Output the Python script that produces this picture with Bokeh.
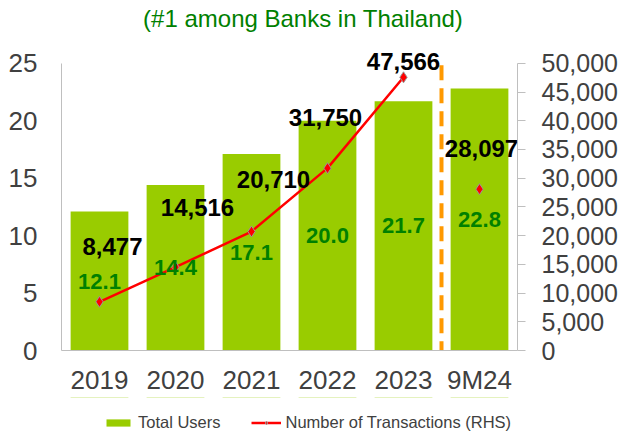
from bokeh.plotting import figure
from bokeh.layouts import column
from bokeh.models import (ColumnDataSource, Range1d, LinearAxis, LabelSet, Label,
                          Legend, LegendItem, FixedTicker, NumeralTickFormatter)
from bokeh.core.properties import value
from bokeh.embed import file_html
from bokeh.resources import INLINE

# ---- data ----
years = ["2019", "2020", "2021", "2022", "2023", "9M24"]
total_users = [12.1, 14.4, 17.1, 20.0, 21.7, 22.8]          # millions (LHS)
transactions = [8477, 14516, 20710, 31750, 47566, 28097]    # RHS
user_labels = ["12.1", "14.4", "17.1", "20.0", "21.7", "22.8"]
txn_labels = ["8,477", "14,516", "20,710", "31,750", "47,566", "28,097"]
left_ticks = [0, 5, 10, 15, 20, 25]
right_ticks = [0, 5000, 10000, 15000, 20000, 25000, 30000, 35000, 40000, 45000, 50000]
title_text = "(#1 among Banks in Thailand)"

# ---- label nudges (screen px, layout only) ----
txn_dx = [13, 22, 22, -2, 0, 2]
txn_dy = [55, 60, 52, 51, 16, 41]

FONT = "Liberation Sans"
GREEN_BAR = "#99CC00"
GREEN_TXT = "#008000"
GRAY_TXT = "#404040"
AXIS_GRAY = "#BFBFBF"

# frame reaches up to the top of the canvas so the title and top labels sit inside it
p = figure(x_range=years, width=620, height=397, output_backend="svg",
           toolbar_location=None, title_location=None, min_border_left=61, min_border_right=102,
           min_border_top=0, min_border_bottom=46)
p.y_range = Range1d(0, 30.47)
p.extra_y_ranges = {"txn": Range1d(0, 60940)}
p.outline_line_color = None
p.xgrid.grid_line_color = None
p.ygrid.grid_line_color = None

bar_src = ColumnDataSource(dict(x=years, top=total_users, mid=[v / 2 for v in total_users], lab=user_labels))
txn_src = ColumnDataSource(dict(x=years, y=transactions, lab=txn_labels, dx=txn_dx, dy=txn_dy))
line_src = ColumnDataSource(dict(x=years[:5], y=transactions[:5]))

bars = p.vbar(x="x", top="top", width=0.76, source=bar_src, fill_color=GREEN_BAR, line_color=None)

# separator between full years and 9M24 (boundary of the last category)
p.segment(x0=[(years[-1], -0.5)], y0=[-0.5], x1=[(years[-1], -0.5)], y1=[25.35],
          line_color="#FF9900", line_width=4, line_dash="15 8")

ln = p.line(x="x", y="y", source=line_src, y_range_name="txn", line_color="#FF0000", line_width=2.5)
pts = p.scatter(x="x", y="y", source=txn_src, y_range_name="txn", marker="diamond", size=11,
                fill_color="#FF0000", line_color="#999999", line_width=1)

p.text(x="x", y="mid", text="lab", source=bar_src, text_align="center", text_baseline="middle",
       text_font=value(FONT), text_font_size="22px", text_font_style="bold", text_color=GREEN_TXT)

txn_lbl = LabelSet(x="x", y="y", text="lab", source=txn_src, y_range_name="txn",
                   x_offset="dx", y_offset="dy", text_align="center", text_baseline="middle",
                   text_font=value(FONT), text_font_size="24px", text_font_style="bold",
                   text_color="#000000")
p.add_layout(txn_lbl)

# title
p.add_layout(Label(x=3.18, y=28.9, text=title_text, text_align="center", text_baseline="middle",
                   text_font=FONT, text_font_size="24px", text_color=GREEN_TXT))

# axes
p.xaxis.axis_line_color = AXIS_GRAY
p.xaxis.major_tick_line_color = None
p.xaxis.minor_tick_line_color = None
p.xaxis.major_label_standoff = 8
p.xaxis.major_label_text_font = FONT
p.xaxis.major_label_text_font_size = "26px"
p.xaxis.major_label_text_color = GRAY_TXT

p.yaxis.ticker = FixedTicker(ticks=left_ticks)
p.yaxis.bounds = (0, 25)
p.yaxis.axis_line_color = AXIS_GRAY
p.yaxis.major_tick_line_color = None
p.yaxis.minor_tick_line_color = None
p.yaxis.major_label_standoff = 18
p.yaxis.major_label_text_font = FONT
p.yaxis.major_label_text_font_size = "26px"
p.yaxis.major_label_text_color = GRAY_TXT

raxis = LinearAxis(y_range_name="txn", ticker=FixedTicker(ticks=right_ticks),
                   formatter=NumeralTickFormatter(format="0,0"), bounds=(0, 50000))
raxis.axis_line_color = AXIS_GRAY
raxis.major_tick_line_color = AXIS_GRAY
raxis.major_tick_out = 8
raxis.major_tick_in = 0
raxis.minor_tick_line_color = None
raxis.major_label_standoff = 16
raxis.major_label_text_font = FONT
raxis.major_label_text_font_size = "25px"
raxis.major_label_text_color = GRAY_TXT
p.add_layout(raxis, "right")

# ---- legend strip below the chart (same data, drawn out of view) ----
lg = figure(width=620, height=35, output_backend="svg", toolbar_location=None,
            x_range=p.x_range, y_range=Range1d(-2, -1), title_location=None,
            x_axis_location=None, y_axis_location=None,
            min_border_left=0, min_border_right=0, min_border_top=0, min_border_bottom=0)
lg.grid.visible = False
lg.outline_line_color = None
k_bar = lg.vbar(x="x", top="top", width=0.76, source=bar_src, fill_color=GREEN_BAR, line_color=None)
k_line = lg.line(x="x", y="y", source=line_src, line_color="#FF0000", line_width=2.5)
k_pt = lg.scatter(x="x", y="y", source=txn_src, marker="diamond", size=11, fill_color="#FF0000",
                  line_color="#999999", line_width=1)

legend = Legend(items=[LegendItem(label="Total Users", renderers=[k_bar]),
                       LegendItem(label="Number of Transactions (RHS)", renderers=[k_line, k_pt])],
                orientation="horizontal", location=(42, 0))
legend.border_line_color = None
legend.background_fill_alpha = 0
legend.label_text_font = FONT
legend.label_text_font_size = "16.5px"
legend.label_text_color = GRAY_TXT
legend.glyph_width = 30
legend.glyph_height = 9
legend.label_height = 16
legend.label_standoff = 5
legend.spacing = 30
legend.padding = 0
legend.margin = 0
lg.add_layout(legend)

layout = column(p, lg, spacing=0)
open("out.html", "w").write(file_html(layout, INLINE))
